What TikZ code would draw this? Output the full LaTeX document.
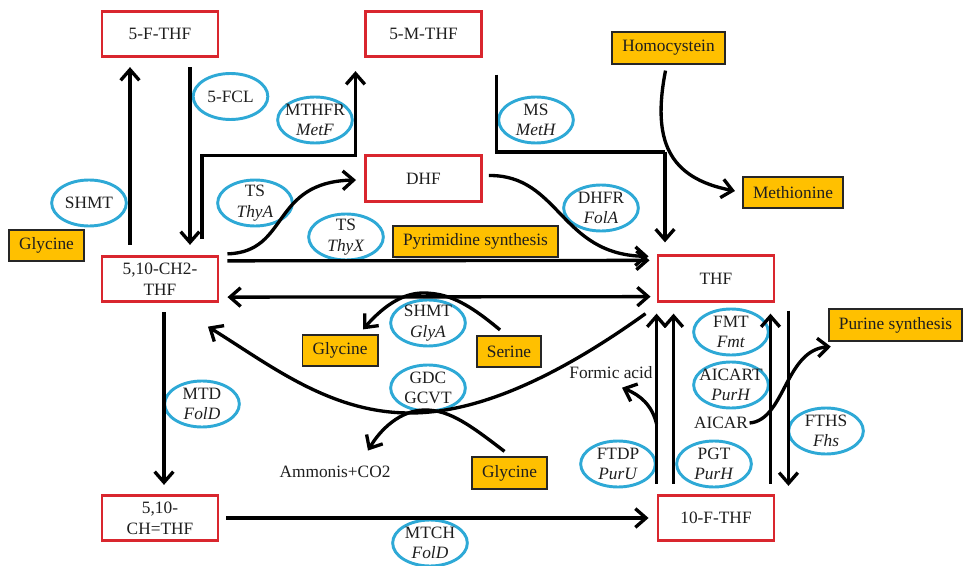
\documentclass[tikz,border=0pt]{standalone}
\usepackage{fontspec}
\setmainfont{Liberation Serif}
\usetikzlibrary{arrows.meta,calc,shapes.geometric}

\definecolor{metred}{RGB}{217,38,46}
\definecolor{subgold}{RGB}{255,192,0}
\definecolor{enzblue}{RGB}{46,169,214}
\definecolor{inkgray}{RGB}{30,30,30}

\tikzset{
  met/.style={draw=metred,line width=2.2pt,minimum width=87pt,minimum height=34pt,
    align=center,inner sep=1pt,text=inkgray},
  sub/.style={draw=black!85,fill=subgold,line width=1.4pt,minimum height=23.5pt,
    inner xsep=7.6pt,inner ysep=1pt,text=inkgray},
  enz/.style={ellipse,draw=enzblue,line width=2.2pt,minimum width=56pt,minimum height=34.5pt,
    inner sep=-4pt,align=center,text=inkgray},
  lbl/.style={inner sep=1pt,text=inkgray},
  barb/.tip={Straight Barb[length=8pt,width=14pt]},
  flow/.style={line width=2.5pt,-barb},
  bare/.style={line width=2.5pt}
}

\begin{document}
\begin{tikzpicture}[x=0.75pt,y=0.75pt,yscale=-1,xscale=1,font=\fontsize{13}{15.5}\selectfont]
\useasboundingbox (0,0) rectangle (966,566);

%Shape: Rectangle (metabolites)
\node[met] (fthf)  at (160,34)    {5-F-THF};
\node[met] (mthf)  at (423.5,34)  {5-M-THF};
\node[met] (dhf)   at (423.5,178.5) {DHF};
\node[met] (ch2)   at (160,279)   {5,10-CH2-\\THF};
\node[met] (thf)   at (716,278.5) {THF};
\node[met] (chthf) at (160,518)   {5,10-\\CH=THF};
\node[met] (fothf) at (716,518)   {10-F-THF};

%Shape: Rectangle (substrates)
\node[sub] (homo) at (668.5,48)   {Homocystein};
\node[sub] (meth) at (793,192.5)  {Methionine};
\node[sub] (glyL) at (46.5,245.5) {Glycine};
\node[sub] (pyr)  at (475.5,241.5) {Pyrimidine synthesis};
\node[sub] (glyM) at (340,350.5)  {Glycine};
\node[sub] (ser)  at (509,351.5)  {Serine};
\node[sub] (glyB) at (509.5,473)  {Glycine};
\node[sub] (pur)  at (895.5,325)  {Purine synthesis};

%Shape: Ellipse (enzymes)
\node[enz] (fcl)   at (230.5,96.5) {5-FCL};
\node[enz] (mthfr) at (315,120)   {MTHFR\\\textit{MetF}};
\node[enz] (shmtL) at (89,203)    {SHMT};
\node[enz] (thya)  at (255,203)   {TS\\\textit{ThyA}};
\node[enz] (thyx)  at (346,237)   {TS\\\textit{ThyX}};
\node[enz] (ms)    at (536,120)   {MS\\\textit{MetH}};
\node[enz] (dhfr)  at (601,208)   {DHFR\\\textit{FolA}};
\node[enz] (glya)  at (428,323)   {SHMT\\\textit{GlyA}};
\node[enz] (gdc)   at (428,388)   {GDC\\GCVT};
\node[enz] (mtd)   at (202,404)   {MTD\\\textit{FolD}};
\node[enz] (mtch)  at (430,543)   {MTCH\\\textit{FolD}};
\node[enz] (fmt)   at (731,332)   {FMT\\\textit{Fmt}};
\node[enz] (aicart) at (731,385)  {AICART\\\textit{PurH}};
\node[enz] (ftdp)  at (618,464)   {FTDP\\\textit{PurU}};
\node[enz] (pgt)   at (714,464)   {PGT\\\textit{PurH}};
\node[enz] (fths)  at (826,431)   {FTHS\\\textit{Fhs}};

%Text
\node[lbl] (formic) at (611,373) {Formic acid};
\node[lbl] (aicar)  at (721,423) {AICAR};
\node[lbl] (ammon)  at (335,472) {Ammonis+CO2};

%Straight Lines
\draw[flow] ($(ch2.north)+(-30,-10)$) -- ($(fthf.south)+(-30,9)$);
\draw[flow] ($(fthf.south)+(30,9)$) -- ($(ch2.north)+(30,-10)$);
\coordinate (mtJ) at ($(mthf.south)+(-68,97.5)$);
\draw[flow] ($(ch2.north)+(42,-16)$) |- (mtJ) -- ($(mthf.south)+(-68,13)$);
\coordinate (msJ) at ($(thf.north)+(-51,-102.5)$);
\draw[bare] ($(mthf.south east)+(13.5,16.5)$) |- (msJ);
\draw[flow] (msJ) -- ($(thf.north)+(-51,-12)$);
\draw[flow] ($(ch2.north east)+(8,6)$) -- ($(thf.north west)+(-7,6)$);
\draw[barb-barb,line width=2.5pt]
  ($(ch2.south east)+(8,-6)$) -- ($(thf.south west)+(-6,-6)$);
\draw[flow] ($(ch2.south)+(4,9)$) -- ($(chthf.north)+(4,-9)$);
\draw[flow] ($(chthf.east)+(7,0)$) -- ($(fothf.west)+(-8,0)$);

%Straight Lines (THF / 10-F-THF)
\draw[flow] ($(fothf.north west)+(0,-10)$) coordinate (ftA) -- ($(thf.south west)+(0,11)$);
\draw[flow] ($(fothf.north west)+(17,-10)$) -- ($(thf.south west)+(17,11)$);
\draw[flow] ($(fothf.north east)+(-5,-10)$) -- ($(thf.south east)+(-5,11)$);
\draw[flow] ($(thf.south east)+(13,8)$) -- ($(fothf.north east)+(13,-8)$);

%Curve Lines
\draw[flow] ($(homo.south)+(-3,6)$) .. controls (652,140) and (668,178) .. ($(meth.west)+(-7,-1.5)$);
\draw[flow] ($(ch2.north east)+(8,-1)$) .. controls (290,252) and (270,182) .. ($(dhf.west)+(-8,1.5)$);
\draw[flow] ($(dhf.east)+(6,-3)$) .. controls (560,175) and (560,255) .. ($(thf.north west)+(-8,2)$);
\draw[flow] ($(thf.south west)+(-11,11)$) .. controls (560,375) and (480,413) .. (410,413)
  .. controls (330,413) and (270,365) .. ($(ch2.south east)+(-11.5,23.5)$);
\draw[flow] ($(ser.north)+(-9,-5)$) .. controls (470,305) and (450,293) .. (423,293)
  .. controls (400,293) and (380,310) .. ($(glyM.north east)+(-15.5,-4.5)$);
\draw[flow] ($(glyB.north)+(-5,-5)$) .. controls (470,425) and (450,410) .. (425,410)
  .. controls (400,410) and (380,430) .. ($(ammon.north)+(33,-14)$);
\draw[flow] ($(ftA)+(0,-60)$) .. controls (652,405) and (640,395) .. ($(formic.south)+(11,7)$);
\draw[flow] (aicar.east) .. controls (785,420) and (785,350) .. ($(pur.south west)+(3,5)$);

\end{tikzpicture}
\end{document}
